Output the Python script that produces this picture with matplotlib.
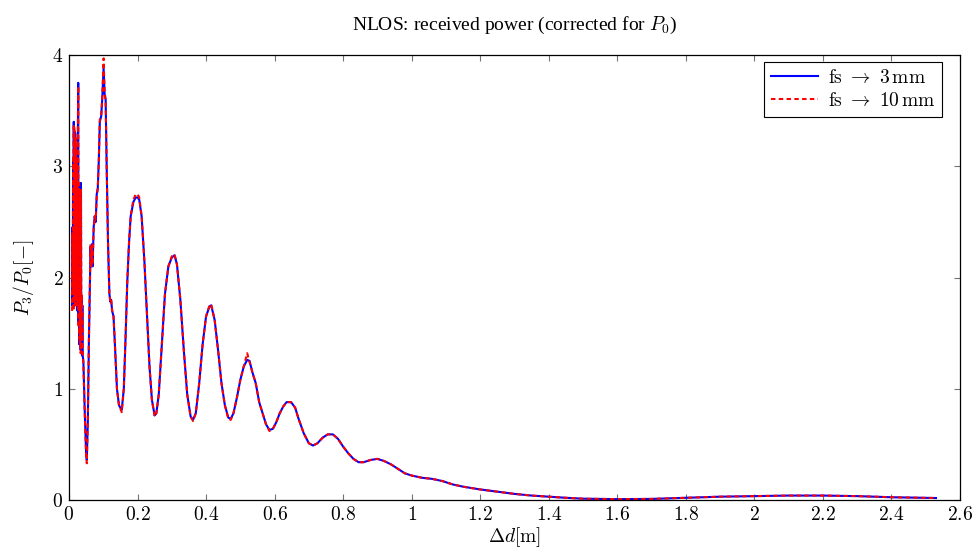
import numpy as np
import matplotlib; matplotlib.use("Agg")
import matplotlib.pyplot as plt
from matplotlib.ticker import FixedLocator, FuncFormatter

plt.rcParams["mathtext.fontset"] = "cm"
plt.rcParams["font.family"] = ["Liberation Serif", "DejaVu Serif"]
plt.rcParams["lines.scale_dashes"] = False

# delta d [m]
dd = [0.009, 0.010, 0.011, 0.012, 0.013, 0.014, 0.015, 0.016, 0.017, 0.018,
      0.019, 0.020, 0.021, 0.022, 0.023, 0.024, 0.025, 0.026, 0.027, 0.028,
      0.029, 0.030, 0.031, 0.032, 0.033, 0.034, 0.035, 0.036, 0.037, 0.038,
      0.039, 0.040, 0.042, 0.046, 0.050, 0.052, 0.055, 0.058, 0.061, 0.063,
      0.065, 0.067, 0.069, 0.072, 0.075, 0.078, 0.081, 0.084, 0.087, 0.090,
      0.094, 0.097, 0.101, 0.104, 0.107, 0.110, 0.114, 0.118, 0.121, 0.123,
      0.126, 0.130, 0.134, 0.140, 0.146, 0.154, 0.160, 0.165, 0.170, 0.175,
      0.180, 0.188, 0.195, 0.200, 0.205, 0.212, 0.220, 0.228, 0.235, 0.242,
      0.250, 0.255, 0.262, 0.270, 0.280, 0.290, 0.300, 0.308, 0.315, 0.325,
      0.335, 0.345, 0.355, 0.362, 0.370, 0.380, 0.390, 0.400, 0.410, 0.415,
      0.425, 0.435, 0.445, 0.455, 0.465, 0.472, 0.480, 0.490, 0.500, 0.510,
      0.520, 0.527, 0.535, 0.545, 0.555, 0.565, 0.575, 0.585, 0.595, 0.605,
      0.615, 0.625, 0.635, 0.648, 0.660, 0.670, 0.685, 0.700, 0.712, 0.725,
      0.740, 0.755, 0.770, 0.785, 0.800, 0.815, 0.830, 0.845, 0.860, 0.880,
      0.900, 0.920, 0.940, 0.960, 0.980, 1.000, 1.030, 1.060, 1.090, 1.120,
      1.150, 1.200, 1.250, 1.300, 1.350, 1.400, 1.450, 1.500, 1.600, 1.700,
      1.800, 1.900, 2.000, 2.100, 2.200, 2.300, 2.400, 2.530]

# P3/P0, fs -> 3 mm
p_3mm = [1.75, 2.45, 1.80, 3.05, 1.75, 3.40, 1.85, 3.30, 1.80, 3.30,
         1.75, 3.20, 1.90, 3.10, 1.80, 2.90, 1.70, 3.30, 3.75, 1.60,
         2.80, 1.40, 2.85, 1.45, 2.70, 1.35, 2.85, 1.40, 1.80, 1.30,
         1.75, 1.30, 1.25, 0.80, 0.42, 0.36, 0.70, 1.40, 1.95, 2.28,
         2.10, 2.30, 2.10, 2.45, 2.55, 2.50, 2.75, 2.80, 3.05, 3.40,
         3.45, 3.60, 3.88, 3.65, 3.60, 3.00, 2.30, 1.85, 1.78, 1.80,
         1.70, 1.65, 1.40, 1.00, 0.85, 0.81, 1.00, 1.45, 1.95, 2.30,
         2.55, 2.68, 2.72, 2.72, 2.70, 2.55, 2.15, 1.65, 1.20, 0.90,
         0.76, 0.78, 0.95, 1.35, 1.85, 2.10, 2.18, 2.20, 2.12, 1.80,
         1.35, 0.95, 0.75, 0.72, 0.78, 1.05, 1.40, 1.65, 1.74, 1.75,
         1.62, 1.35, 1.05, 0.85, 0.74, 0.73, 0.78, 0.92, 1.08, 1.20,
         1.26, 1.25, 1.15, 1.05, 0.88, 0.78, 0.68, 0.63, 0.64, 0.70,
         0.78, 0.84, 0.88, 0.88, 0.83, 0.73, 0.60, 0.51, 0.49, 0.51,
         0.56, 0.59, 0.59, 0.55, 0.48, 0.42, 0.37, 0.34, 0.34, 0.36,
         0.37, 0.35, 0.32, 0.28, 0.24, 0.22, 0.20, 0.19, 0.17, 0.14,
         0.12, 0.095, 0.075, 0.055, 0.040, 0.030, 0.020, 0.012, 0.008, 0.010,
         0.020, 0.030, 0.035, 0.040, 0.040, 0.035, 0.025, 0.018]

# P3/P0, fs -> 10 mm
p_10mm = [1.70, 2.40, 1.85, 3.10, 1.70, 3.38, 1.80, 3.35, 1.75, 3.25,
          1.80, 3.25, 1.85, 3.05, 1.75, 2.95, 1.75, 3.35, 3.72, 1.55,
          2.85, 1.45, 2.80, 1.40, 2.75, 1.32, 2.80, 1.45, 1.85, 1.35,
          1.70, 1.32, 1.22, 0.78, 0.40, 0.33, 0.72, 1.42, 1.95, 2.30,
          2.08, 2.28, 2.12, 2.42, 2.55, 2.52, 2.72, 2.80, 3.05, 3.42,
          3.45, 3.62, 3.97, 3.68, 3.58, 3.00, 2.30, 1.85, 1.78, 1.80,
          1.70, 1.65, 1.40, 1.00, 0.85, 0.79, 1.00, 1.45, 1.95, 2.30,
          2.55, 2.70, 2.75, 2.75, 2.72, 2.55, 2.15, 1.65, 1.20, 0.90,
          0.75, 0.78, 0.95, 1.35, 1.85, 2.10, 2.19, 2.21, 2.12, 1.80,
          1.35, 0.95, 0.75, 0.71, 0.78, 1.05, 1.40, 1.65, 1.75, 1.76,
          1.62, 1.35, 1.05, 0.85, 0.73, 0.72, 0.78, 0.92, 1.08, 1.20,
          1.32, 1.24, 1.15, 1.05, 0.88, 0.78, 0.68, 0.62, 0.64, 0.70,
          0.78, 0.84, 0.88, 0.88, 0.83, 0.73, 0.60, 0.51, 0.49, 0.51,
          0.56, 0.59, 0.59, 0.55, 0.48, 0.42, 0.37, 0.34, 0.34, 0.36,
          0.37, 0.35, 0.32, 0.28, 0.24, 0.22, 0.20, 0.19, 0.17, 0.14,
          0.12, 0.095, 0.075, 0.055, 0.040, 0.030, 0.020, 0.012, 0.008, 0.010,
          0.020, 0.030, 0.035, 0.040, 0.040, 0.035, 0.025, 0.018]

xticks = [0, 0.2, 0.4, 0.6, 0.8, 1, 1.2, 1.4, 1.6, 1.8, 2, 2.2, 2.4, 2.6]
yticks = [0, 1, 2, 3, 4]

fig = plt.figure(figsize=(9.77, 5.58), dpi=100)
ax = fig.add_axes([0.0706, 0.1039, 0.912, 0.7975])

ax.plot(dd, p_3mm, color="blue", lw=1.5,
        label=r"$\mathrm{fs}\ \rightarrow\ 3\,\mathrm{mm}$")
ax.plot(dd, p_10mm, color="red", lw=1.5, dashes=(3.2, 2.4),
        label=r"$\mathrm{fs}\ \rightarrow\ 10\,\mathrm{mm}$")

ax.set_xlim(0, 2.6); ax.set_ylim(0, 4)
ax.xaxis.set_major_locator(FixedLocator(xticks))
ax.yaxis.set_major_locator(FixedLocator(yticks))
fmt = FuncFormatter(lambda v, p: f"${v:g}$")
ax.xaxis.set_major_formatter(fmt); ax.yaxis.set_major_formatter(fmt)
ax.tick_params(direction="in", top=True, right=True, length=4.5, width=0.8,
               color="0.45", labelsize=14, pad=4)
for s in ax.spines.values():
    s.set_linewidth(0.9)

ax.set_xlabel(r"$\Delta d[\mathrm{m}]$", fontsize=14, labelpad=1)
ax.set_ylabel(r"$P_3/P_0[-]$", fontsize=14, labelpad=12)
ax.set_title(r"NLOS: received power (corrected for $P_0$)", fontsize=14, pad=18)

leg = ax.legend(loc="upper right", bbox_to_anchor=(0.9798, 0.984), borderaxespad=0,
                fontsize=14, fancybox=False, framealpha=1, edgecolor="black",
                handlelength=2.4, handletextpad=0.5, borderpad=0.35, labelspacing=0.25)
leg.get_frame().set_linewidth(0.8)

fig.savefig("out.png", dpi=100)
